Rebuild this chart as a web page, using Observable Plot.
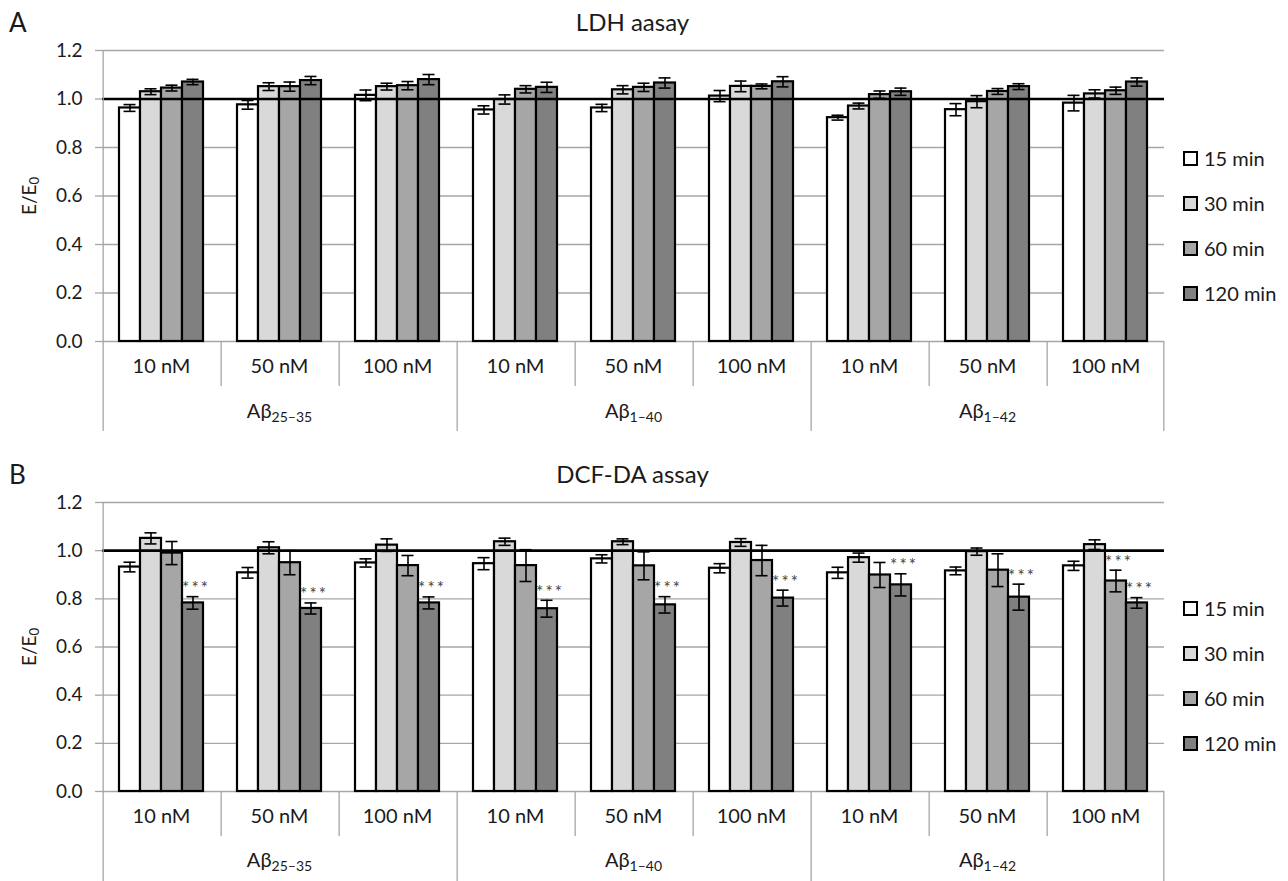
<!DOCTYPE html>
<html><head><meta charset="utf-8">
<script src="https://cdn.jsdelivr.net/npm/d3@7"></script>
<script src="https://cdn.jsdelivr.net/npm/@observablehq/plot@0.6"></script>
<style>
body{margin:0;background:#fff;font-family:Lato,"Open Sans",sans-serif;}
#root{position:relative;width:1288px;height:881px;overflow:hidden;color:#1a1a1a;background:#fff}
.abs{position:absolute;white-space:nowrap;line-height:1}
.ctr{transform:translate(-50%,-50%)}
.ylab{transform:translate(-50%,-50%) rotate(-90deg);font-size:19px}
.ylab sub{font-size:13px;vertical-align:-3px}
.panel{position:absolute;left:0}
.leg{position:absolute;display:flex;align-items:center;font-size:20px}
.leg span.sw{display:inline-block;width:11px;height:11px;border:2px solid #000;margin-right:6px}
</style></head><body><div id="root"></div>
<script>
// ---- data ----
const peptideBase = "Aβ";
const peptideSub = ["25–35", "1–40", "1–42"];
const concentrations = ["10 nM", "50 nM", "100 nM"];
const series = ["15 min", "30 min", "60 min", "120 min"];
const seriesColors = ["#ffffff", "#d9d9d9", "#a6a6a6", "#808080"];
const yTicks = [0, 0.2, 0.4, 0.6, 0.8, 1.0, 1.2];
const titles = ["LDH aasay", "DCF-DA assay"];
const panelLetters = ["A", "B"];

const ldhMean = [
  [0.963, 1.030, 1.045, 1.070],
  [0.976, 1.051, 1.051, 1.076],
  [1.015, 1.051, 1.055, 1.080],
  [0.955, 0.998, 1.040, 1.048],
  [0.963, 1.038, 1.048, 1.066],
  [1.012, 1.052, 1.052, 1.071],
  [0.923, 0.971, 1.018, 1.030],
  [0.956, 0.989, 1.031, 1.051],
  [0.983, 1.021, 1.034, 1.070]
];
const ldhErr = [
  [0.014, 0.012, 0.012, 0.011],
  [0.018, 0.016, 0.019, 0.017],
  [0.022, 0.014, 0.017, 0.021],
  [0.017, 0.019, 0.015, 0.021],
  [0.015, 0.017, 0.017, 0.021],
  [0.023, 0.022, 0.010, 0.021],
  [0.010, 0.012, 0.015, 0.015],
  [0.025, 0.025, 0.012, 0.012],
  [0.032, 0.017, 0.015, 0.017]
];
const ldhSig = ldhMean.map(r => r.map(() => false));

const dcfMean = [
  [0.932, 1.051, 0.990, 0.783],
  [0.908, 1.012, 0.950, 0.760],
  [0.949, 1.023, 0.938, 0.783],
  [0.946, 1.037, 0.938, 0.759],
  [0.966, 1.037, 0.937, 0.775],
  [0.927, 1.034, 0.959, 0.803],
  [0.908, 0.971, 0.899, 0.858],
  [0.916, 0.996, 0.919, 0.807],
  [0.937, 1.025, 0.874, 0.783]
];
const dcfErr = [
  [0.020, 0.023, 0.048, 0.026],
  [0.022, 0.025, 0.050, 0.023],
  [0.017, 0.026, 0.042, 0.025],
  [0.025, 0.015, 0.066, 0.035],
  [0.017, 0.012, 0.058, 0.034],
  [0.019, 0.016, 0.063, 0.033],
  [0.023, 0.019, 0.052, 0.046],
  [0.016, 0.015, 0.068, 0.054],
  [0.019, 0.020, 0.045, 0.022]
];
const dcfSig = [
  [false, false, false, true],
  [false, false, false, true],
  [false, false, false, true],
  [false, false, false, true],
  [false, false, false, true],
  [false, false, false, true],
  [false, false, false, true],
  [false, false, false, true],
  [false, false, true, true]
];

// ---- layout ----
const W = 1288, mL = 99, mR = 122;
const groups = peptideSub.flatMap((p, pi) => concentrations.map((c, ci) => ({key: `${pi}-${ci}`, pi, ci, conc: c, pep: peptideBase + p})));
const keys = groups.map(g => g.key);
const padOuter = 0.74;
const facetW = (W - mL - mR) / groups.length;
const step = facetW / (series.length + 2 * padOuter);
const edge = step * (0.5 + padOuter);
const grid = "#a6a6a6";
const root = document.getElementById("root");

function panel({mean, err, sig, top, height, mT, mB, shortT, longT, labT, pepT, title, letter, legendY}) {
  const rows = groups.flatMap((g, gi) => series.map((s, si) => ({key: g.key, s, v: mean[gi][si], e: err[gi][si], sig: sig[gi][si]})));
  const frameH = height - mT - mB;
  const fx = "key";
  const chart = Plot.plot({
    width: W, height, marginLeft: mL, marginRight: mR, marginTop: mT, marginBottom: mB,
    style: {fontFamily: "Lato, 'Open Sans', sans-serif", fontSize: "19px", color: "#1a1a1a", background: "transparent", overflow: "visible"},
    fx: {domain: keys, padding: 0, axis: null},
    x: {domain: series, paddingInner: 0, paddingOuter: padOuter, axis: null},
    y: {domain: [0, 1.2]},
    color: {domain: series, range: seriesColors},
    marks: [
      Plot.gridY(yTicks.filter(t => t > 0), {stroke: grid, strokeOpacity: 1, strokeWidth: 1.3}),
      Plot.axisY({ticks: yTicks, tickFormat: d3.format(".1f"), tickSize: 7, tickPadding: 13, fontSize: 19, stroke: grid, strokeWidth: 1.3, label: null}),
      Plot.ruleY([0], {stroke: grid, strokeWidth: 1.3}),
      Plot.barY(rows, {fx, x: "s", y: "v", fill: "s", stroke: "#000", strokeWidth: 2.2}),
      Plot.ruleY([1], {stroke: "#000", strokeWidth: 2.6}),
      Plot.ruleX(rows, {fx, x: "s", y1: d => d.v - d.e, y2: d => d.v + d.e, stroke: "#000", strokeWidth: 1.6}),
      Plot.tickY(rows, {fx, x: "s", y: d => d.v + d.e, insetLeft: 4.5, insetRight: 4.5, stroke: "#000", strokeWidth: 1.6}),
      Plot.tickY(rows, {fx, x: "s", y: d => d.v - d.e, insetLeft: 4.5, insetRight: 4.5, stroke: "#000", strokeWidth: 1.6}),
      Plot.text(rows.filter(d => d.sig), {fx, x: "s", y: d => d.v + d.e, text: () => "*\u2009*\u2009*", dy: -8, dx: 2, fontSize: 17, fill: "#444"}),
      // category separators
      Plot.ruleX(groups.filter(g => g.pi === 0 && g.ci === 0), {fx, x: () => series[0], dx: -edge, insetBottom: -longT, stroke: grid, strokeWidth: 1.3}),
      Plot.ruleX(groups.filter(g => g.pi > 0 && g.ci === 0), {fx, x: () => series[0], dx: -edge, insetTop: frameH, insetBottom: -longT, stroke: grid, strokeWidth: 1.3}),
      Plot.ruleX(groups.filter(g => g.ci > 0), {fx, x: () => series[0], dx: -edge, insetTop: frameH, insetBottom: -shortT, stroke: grid, strokeWidth: 1.3}),
      Plot.ruleX(groups.slice(-1), {fx, x: () => series[series.length - 1], dx: edge, insetTop: frameH, insetBottom: -longT, stroke: grid, strokeWidth: 1.3}),
      Plot.text(groups, {fx, text: "conc", frameAnchor: "bottom", dy: labT, fontSize: 20}),
      Plot.text(groups.filter(g => g.ci === 1), {fx, text: "pep", frameAnchor: "bottom", dy: pepT, fontSize: 20})
    ]
  });
  // subscripts for peptide names
  chart.querySelectorAll("text").forEach(t => {
    const s = t.textContent;
    if (s.startsWith(peptideBase) && s.length > peptideBase.length) {
      t.textContent = peptideBase;
      const ts = document.createElementNS("http://www.w3.org/2000/svg", "tspan");
      ts.setAttribute("font-size", "14");
      ts.setAttribute("dy", "4");
      ts.textContent = s.slice(peptideBase.length);
      t.appendChild(ts);
    }
  });
  const wrap = document.createElement("div");
  wrap.className = "panel";
  wrap.style.top = top + "px";
  wrap.appendChild(chart);
  root.appendChild(wrap);

  const mk = (cls, html, x, y, extra = "") => {
    const d = document.createElement("div");
    d.className = "abs " + cls;
    d.style.cssText = `left:${x}px;top:${y}px;${extra}`;
    d.innerHTML = html;
    root.appendChild(d);
  };
  mk("ctr", title, (mL + W - mR) / 2, top + (letter === "A" ? 22 : 34), "font-size:24px");
  mk("", letter, 9, top + (letter === "A" ? 9 : 21), "font-size:26px");
  mk("ylab", "E/E<sub>0</sub>", 30, top + mT + frameH / 2);
  series.forEach((s, i) => {
    const d = document.createElement("div");
    d.className = "leg";
    d.style.left = "1183px";
    d.style.top = (legendY + i * 45 - 11) + "px";
    d.innerHTML = `<span class="sw" style="background:${seriesColors[i]}"></span>${s}`;
    root.appendChild(d);
  });
}

panel({mean: ldhMean, err: ldhErr, sig: ldhSig, top: 0, height: 440, mT: 50, mB: 99, shortT: 45, longT: 90, labT: 31, pepT: 76, title: titles[0], letter: panelLetters[0], legendY: 157});
panel({mean: dcfMean, err: dcfErr, sig: dcfSig, top: 440, height: 441, mT: 62, mB: 90, shortT: 45, longT: 90, labT: 31, pepT: 75, title: titles[1], letter: panelLetters[1], legendY: 607});
</script>
</body></html>
